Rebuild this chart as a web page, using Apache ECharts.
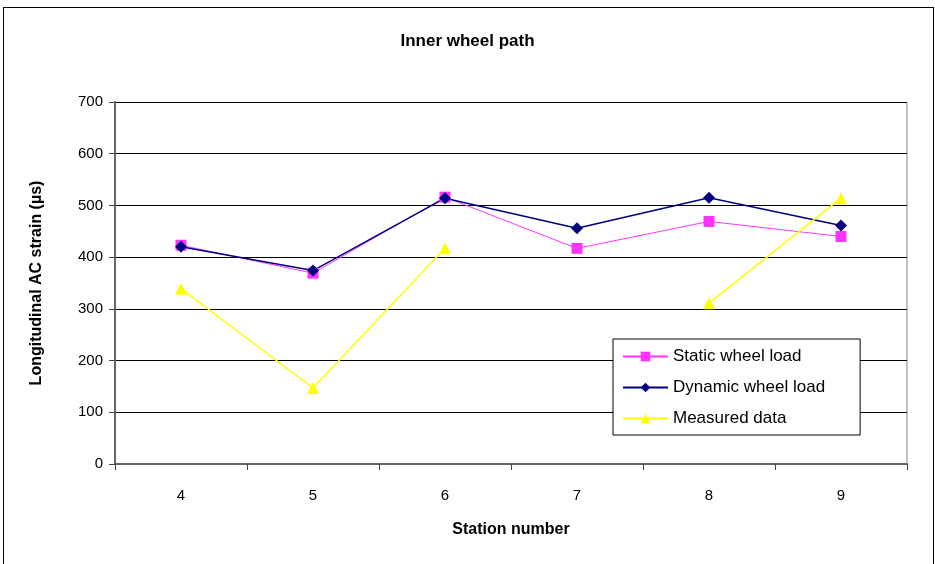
<!DOCTYPE html>
<html><head><meta charset="utf-8">
<script src="https://cdn.jsdelivr.net/npm/echarts@6/dist/echarts.min.js"></script>
<style>
html,body{margin:0;padding:0;background:#fff;overflow:hidden;}
#frame{position:absolute;left:3px;top:7px;width:931px;height:600px;border:1px solid #000;box-sizing:border-box;}
#c{position:absolute;left:0;top:0;width:935px;height:564px;}
</style></head>
<body>
<div id="frame"></div>
<div id="c"></div>
<script>
const categories = ['4','5','6','7','8','9'];
const staticLoad = [423, 369, 516, 417, 469, 440];
const dynamicLoad = [420, 374, 514, 456, 515, 461];
const measured = [339, 147, 417, null, 311, 514];
const seriesNames = ['Static wheel load','Dynamic wheel load','Measured data'];

const chart = echarts.init(document.getElementById('c'), null, {renderer:'canvas'});
const font = 'Liberation Sans, Arial, sans-serif';
chart.setOption({
  animation:false,
  backgroundColor:'transparent',
  title:{text:'Inner wheel path',left:'center',top:28,
    textStyle:{fontFamily:font,fontSize:17,fontWeight:'bold',color:'#000'}},
  grid:{left:115,top:102,width:792,height:362,containLabel:false,show:false},
  legend:{orient:'vertical',left:613,top:339,
    data:seriesNames,
    borderColor:'#000',borderWidth:1,backgroundColor:'#fff',
    padding:[9,35,8,9],itemGap:14,itemWidth:45,itemHeight:12,
    textStyle:{fontFamily:font,fontSize:17,color:'#000'}},
  xAxis:{type:'category',data:categories,boundaryGap:true,
    name:'Station number',nameLocation:'middle',nameGap:58,
    nameTextStyle:{fontFamily:font,fontSize:16,fontWeight:'bold',color:'#000'},
    axisLine:{lineStyle:{color:'#666',width:2}},
    axisTick:{show:true,alignWithLabel:false,length:6,lineStyle:{color:'#444',width:1}},
    axisLabel:{fontFamily:font,fontSize:15,color:'#000',margin:24},
    splitLine:{show:false}},
  yAxis:{type:'value',min:0,max:700,interval:100,
    name:'Longitudinal AC strain (µs)',nameLocation:'middle',nameGap:70,
    nameTextStyle:{fontFamily:font,fontSize:16,fontWeight:'bold',color:'#000'},
    axisLine:{show:true,lineStyle:{color:'#666',width:2}},
    axisTick:{show:true,length:6,lineStyle:{color:'#444',width:1}},
    axisLabel:{fontFamily:font,fontSize:15,color:'#000',margin:12},
    splitLine:{show:true,lineStyle:{color:'#000',width:1}}},
  graphic:[{type:'line',shape:{x1:907,y1:102,x2:907,y2:464},style:{stroke:'#888',lineWidth:1}}],
  series:[
    {name:seriesNames[0],type:'line',data:staticLoad,symbol:'rect',symbolSize:11,
      lineStyle:{color:'#ff33ff',width:1},itemStyle:{color:'#ff33ff'}},
    {name:seriesNames[1],type:'line',data:dynamicLoad,symbol:'diamond',symbolSize:12,
      lineStyle:{color:'#000080',width:1.5},itemStyle:{color:'#000080'}},
    {name:seriesNames[2],type:'line',data:measured,symbol:'triangle',symbolSize:12,connectNulls:false,
      lineStyle:{color:'#ffff00',width:1.5},itemStyle:{color:'#ffff00'}}
  ]
});
</script>
</body></html>
